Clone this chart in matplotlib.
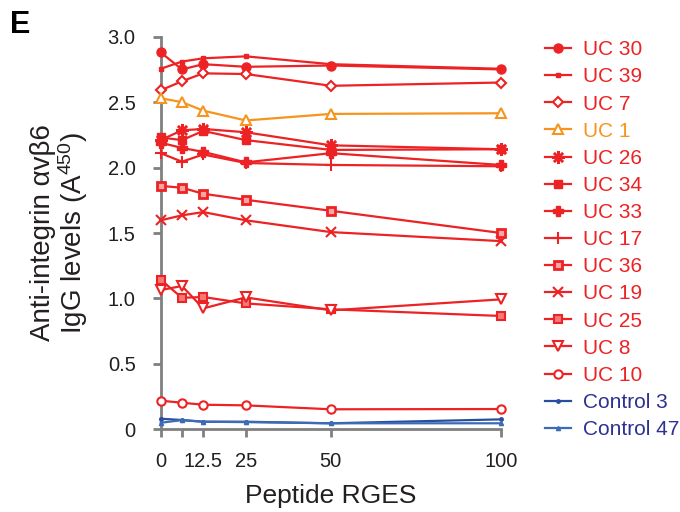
import matplotlib
matplotlib.use("Agg")
import matplotlib.pyplot as plt

plt.rcParams['font.family'] = ['Liberation Sans', 'DejaVu Sans']
plt.rcParams['mathtext.default'] = 'regular'

x_vals = [0, 6.25, 12.5, 25, 50, 100]
x_tick_labels = ['0', '', '12.5', '25', '50', '100']
y_ticks = [0, 0.5, 1.0, 1.5, 2.0, 2.5, 3.0]
y_tick_labels = ['0', '0.5', '1.0', '1.5', '2.0', '2.5', '3.0']

series_names = ['UC 30', 'UC 39', 'UC 7', 'UC 1', 'UC 26', 'UC 34', 'UC 33', 'UC 17',
                'UC 36', 'UC 19', 'UC 25', 'UC 8', 'UC 10', 'Control 3', 'Control 47']

uc30 = [2.88, 2.75, 2.79, 2.77, 2.78, 2.75]
uc39 = [2.755, 2.81, 2.835, 2.85, 2.79, 2.755]
uc7 = [2.59, 2.66, 2.72, 2.715, 2.625, 2.65]
uc1 = [2.53, 2.50, 2.435, 2.36, 2.41, 2.415]
uc26 = [2.21, 2.285, 2.295, 2.27, 2.17, 2.14]
uc34 = [2.23, 2.21, 2.28, 2.21, 2.135, 2.14]
uc33 = [2.19, 2.15, 2.12, 2.04, 2.11, 2.02]
uc17 = [2.11, 2.045, 2.10, 2.035, 2.02, 2.01]
uc36 = [1.86, 1.846, 1.80, 1.754, 1.67, 1.50]
uc19 = [1.597, 1.635, 1.66, 1.597, 1.507, 1.438]
uc25 = [1.143, 1.005, 1.011, 0.962, 0.917, 0.866]
uc8 = [1.064, 1.095, 0.924, 1.008, 0.909, 0.993]
uc10 = [0.219, 0.203, 0.188, 0.183, 0.153, 0.155]
control3 = [0.081, 0.071, 0.058, 0.058, 0.046, 0.076]
control47 = [0.050, 0.070, 0.058, 0.055, 0.046, 0.046]

series_values = [uc30, uc39, uc7, uc1, uc26, uc34, uc33, uc17, uc36, uc19, uc25, uc8, uc10,
                 control3, control47]

RED = '#ED2224'
ORANGE = '#F7941D'
BLUE3 = '#2A4E9E'
BLUE47 = '#3D6CB6'
NAVY = '#2E3192'

styles = [
    dict(marker='o', ms=6.5, mfc=RED, color=RED),
    dict(marker='s', ms=3, mfc=RED, color=RED),
    dict(marker='D', ms=5.5, mfc='white', color=RED, mew=1.5),
    dict(marker='^', ms=7, mfc='white', color=ORANGE, mew=1.5),
    dict(marker=(8, 2, 0), ms=9, color=RED, mew=1.8),
    dict(marker='s', ms=5.5, mfc=RED, color=RED),
    dict(marker='P', ms=7.5, mfc=RED, color=RED),
    dict(marker='+', ms=9, color=RED, mew=1.5),
    dict(marker='s', ms=6, mfc='#F8A5A5', color=RED, mew=2),
    dict(marker='x', ms=6.5, color=RED, mew=1.5),
    dict(marker='s', ms=6, mfc='#F47A7A', color=RED, mew=1.5),
    dict(marker='v', ms=7, mfc='white', color=RED, mew=1.5),
    dict(marker='o', ms=6, mfc='white', color=RED, mew=1.5),
    dict(marker='o', ms=2.5, mfc=BLUE3, color=BLUE3),
    dict(marker='^', ms=3, mfc=BLUE47, color=BLUE47),
]
text_colors = [RED, RED, RED, ORANGE, RED, RED, RED, RED, RED, RED, RED, RED, RED, NAVY, NAVY]

fig = plt.figure(figsize=(6.8, 5.12), dpi=100)
ax = fig.add_axes([0.2363, 0.1615, 0.5005, 0.7668])

for name, vals, st in zip(series_names, series_values, styles):
    kw = dict(st)
    ax.plot(x_vals, vals, label=name, lw=1.6, clip_on=False, zorder=3, **kw)

ax.set_xlim(0, 100)
ax.set_ylim(0, 3.0)
ax.set_xticks(x_vals)
ax.set_xticklabels(x_tick_labels)
ax.set_yticks(y_ticks)
ax.set_yticklabels(y_tick_labels)

for side in ['top', 'right']:
    ax.spines[side].set_visible(False)
for side in ['left', 'bottom']:
    ax.spines[side].set_color('#808080')
    ax.spines[side].set_linewidth(2.0)

ax.tick_params(axis='both', which='major', direction='out', length=6, width=2.0,
               color='#808080', labelsize=14.5, labelcolor='#231F20')
ax.tick_params(axis='y', pad=12)
ax.tick_params(axis='x', pad=10)

ax.set_xlabel('Peptide RGES', fontsize=19, color='#231F20', labelpad=10)
ax.set_ylabel('Anti-integrin αvβ6\nIgG levels (A$^{450}$)', fontsize=20, color='#231F20',
              labelpad=13, linespacing=1.0)

leg = ax.legend(loc='upper left', bbox_to_anchor=(1.106, 1.012), frameon=False, fontsize=15,
                handlelength=1.25, handletextpad=0.55, labelspacing=0.39, borderaxespad=0)
for t, c in zip(leg.get_texts(), text_colors):
    t.set_color(c)

fig.text(0.015, 0.98, 'E', fontsize=22, fontweight='bold', va='top', ha='left')

fig.savefig('out.png', dpi=100)
